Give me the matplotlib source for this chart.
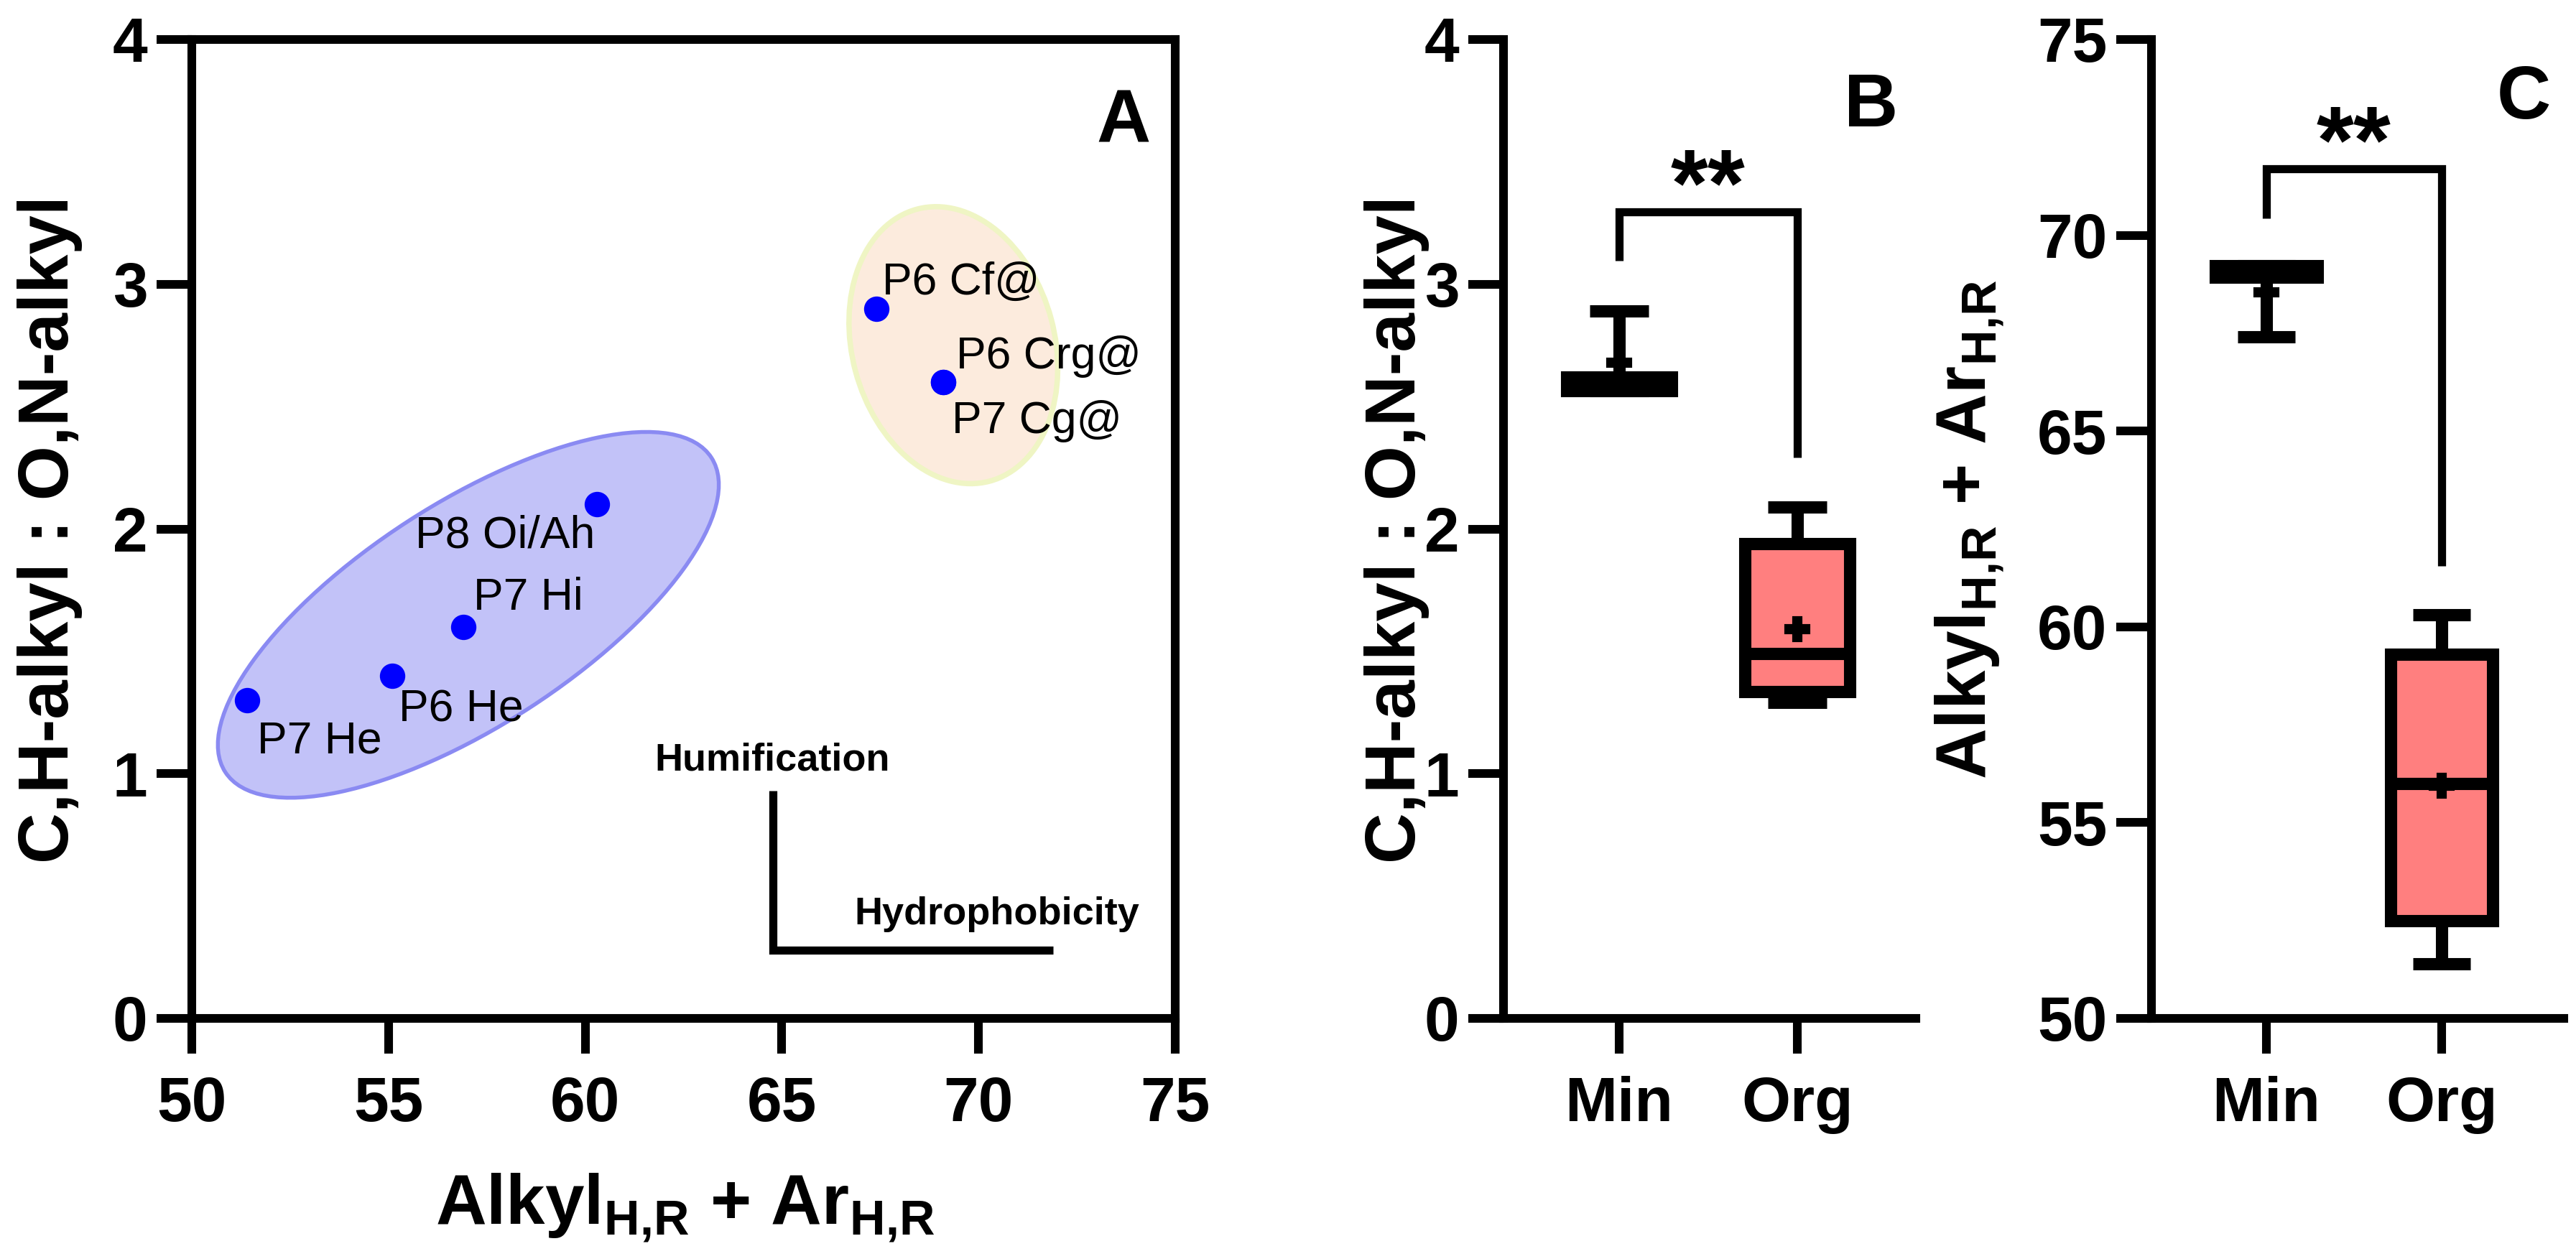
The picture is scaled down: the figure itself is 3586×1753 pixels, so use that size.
import matplotlib
matplotlib.use('Agg')
import matplotlib.pyplot as plt
from matplotlib.patches import Ellipse
import matplotlib.transforms as mtransforms

plt.rcParams['font.family'] = ['Liberation Sans', 'DejaVu Sans']
plt.rcParams['font.weight'] = 'bold'
plt.rcParams['mathtext.fontset'] = 'custom'
plt.rcParams['mathtext.rm'] = 'Liberation Sans:bold'
plt.rcParams['mathtext.bf'] = 'Liberation Sans:bold'
plt.rcParams['mathtext.it'] = 'Liberation Sans:bold'

# ---------------- data ----------------
# Panel A: scatter
sample_labels = ['P7 He', 'P6 He', 'P7 Hi', 'P8 Oi/Ah', 'P6 Cf@', 'P6 Crg@', 'P7 Cg@']
alkyl_ar = [51.4, 55.1, 56.9, 60.3, 67.4, 69.1, 69.1]
ch_on_ratio = [1.30, 1.40, 1.60, 2.10, 2.90, 2.60, 2.60]

# Panel B / C: box plot summaries
groups = ['Min', 'Org']
b_whislo = [2.565, 1.29]
b_q1 = [2.565, 1.335]
b_med = [2.60, 1.49]
b_q3 = [2.62, 1.94]
b_whishi = [2.89, 2.09]
b_mean = [2.68, 1.59]

c_whislo = [67.4, 51.4]
c_q1 = [68.92, 52.5]
c_med = [69.10, 56.0]
c_q3 = [69.23, 59.3]
c_whishi = [69.23, 60.3]
c_mean = [68.55, 55.95]

sig_text = '**'

# ---------------- figure ----------------
W, H = 3586, 1753
DPI = 300
fig = plt.figure(figsize=(W / DPI, H / DPI), dpi=DPI)

def px_ax(l, r, t, b):
    return [l / W, 1 - b / H, (r - l) / W, (b - t) / H]

SPINE_LW = 2.9
TICK_FS = 21
LABEL_FS = 23.5

axA = fig.add_axes(px_ax(267, 1636, 55, 1418))
axB = fig.add_axes(px_ax(2093, 2667, 55, 1418))
axC = fig.add_axes(px_ax(2995, 3569, 55, 1418))

for ax in (axA, axB, axC):
    for s in ax.spines.values():
        s.set_linewidth(SPINE_LW)
    ax.tick_params(axis='both', which='both', direction='out', length=11.8,
                   width=SPINE_LW, labelsize=TICK_FS, top=False, right=False)
    ax.tick_params(axis='x', pad=7.5)
    ax.tick_params(axis='y', pad=3.0)

# ---------------- Panel A ----------------
axA.set_xlim(50, 75)
axA.set_ylim(0, 4)
axA.set_xticks([50, 55, 60, 65, 70, 75])
axA.set_yticks([0, 1, 2, 3, 4])

def ellipse(ax, cx, cy, a_px, b_px, angle, fc, ec, lw):
    trans = mtransforms.Affine2D().scale(fig.dpi / DPI) + \
        mtransforms.ScaledTranslation(cx, cy, ax.transData)
    e = Ellipse((0, 0), 2 * a_px, 2 * b_px, angle=angle, transform=trans,
                facecolor=fc, edgecolor=ec, linewidth=lw, zorder=1)
    ax.add_patch(e)

ellipse(axA, 57.03, 1.649, 403, 155, 32.9, '#C2C2F8', '#8A8AF2', 1.3)
ellipse(axA, 69.36, 2.751, 196, 141, 105, '#FCEBDD', '#EFF5C4', 1.8)

axA.scatter(alkyl_ar, ch_on_ratio, s=72, color='#0000FF', linewidths=0, zorder=3)

label_offsets = [(3.4, -6.5), (2.2, -4.2), (3.4, 5.8), (-0.7, -3.4),
                 (1.9, 4.8), (4.3, 4.6), (2.9, -6.0)]
label_align = [('left', 'top'), ('left', 'top'), ('left', 'baseline'), ('right', 'top'),
               ('left', 'baseline'), ('left', 'baseline'), ('left', 'top')]
for lab, x, y, off, (ha, va) in zip(sample_labels, alkyl_ar, ch_on_ratio,
                                    label_offsets, label_align):
    axA.annotate(lab, (x, y), xytext=off, textcoords='offset points',
                 ha=ha, va=va, fontsize=15, fontweight='normal', zorder=4)

# humification / hydrophobicity indicator
axA.plot([64.77, 64.77, 71.9], [0.93, 0.28, 0.28], color='black', lw=2.7,
         solid_joinstyle='miter', solid_capstyle='butt')
axA.text(67.75, 1.015, 'Humification', ha='right', va='baseline', fontsize=13,
         fontweight='bold')
axA.text(74.1, 0.384, 'Hydrophobicity', ha='right', va='baseline', fontsize=13,
         fontweight='bold')

# ---------------- Box panels ----------------
def box_panel(ax, whislo, q1, med, q3, whishi, mean, ylim, yticks, xlim,
              br_top, br_left, br_right):
    stats = []
    for i in range(len(groups)):
        stats.append(dict(whislo=whislo[i], q1=q1[i], med=med[i], q3=q3[i],
                          whishi=whishi[i], mean=mean[i], fliers=[],
                          label=groups[i]))
    ax.bxp(stats, positions=range(len(groups)), widths=0.585, capwidths=0.33,
           patch_artist=True, showmeans=True, showfliers=False,
           boxprops=dict(facecolor='#FF7F7F', edgecolor='black', linewidth=4.1,
                         joinstyle='miter'),
           whiskerprops=dict(color='black', linewidth=4.1, solid_capstyle='butt'),
           capprops=dict(color='black', linewidth=4.1, solid_capstyle='butt'),
           medianprops=dict(color='black', linewidth=4.1, solid_capstyle='butt'),
           meanprops=dict(marker='P', markerfacecolor='black',
                          markeredgecolor='black', markersize=7.5),
           manage_ticks=False)
    ax.set_xlim(*xlim)
    ax.set_ylim(*ylim)
    ax.set_yticks(yticks)
    ax.set_xticks(range(len(groups)))
    ax.set_xticklabels(groups, fontsize=TICK_FS, fontweight='bold')
    ax.spines['top'].set_visible(False)
    ax.spines['right'].set_visible(False)
    ax.plot([0, 0, 1, 1], [br_left, br_top, br_top, br_right], color='black',
            lw=2.7, solid_joinstyle='miter', solid_capstyle='butt', clip_on=False)
    ax.text(0.5, br_top - (ylim[1] - ylim[0]) * 0.004, sig_text, ha='center',
            va='baseline', fontsize=32, fontweight='bold')

box_panel(axB, b_whislo, b_q1, b_med, b_q3, b_whishi, b_mean, (0, 4),
          [0, 1, 2, 3, 4], (-0.649, 1.665), 3.296, 3.096, 2.292)
box_panel(axC, c_whislo, c_q1, c_med, c_q3, c_whishi, c_mean, (50, 75),
          [50, 55, 60, 65, 70, 75], (-0.656, 1.697), 71.7, 70.43, 61.56)

for ax in (axA, axB, axC):
    for lbl in ax.get_xticklabels() + ax.get_yticklabels():
        lbl.set_fontweight('bold')

# ---------------- labels ----------------
def ftxt(x, y, s, **kw):
    fig.text(x / W, 1 - y / H, s, **kw)

ylab = 'C,H-alkyl : O,N-alkyl'
xlab = r'Alkyl$_{H{,}R}$ + Ar$_{H{,}R}$'
ftxt(70, 737, ylab, rotation=90, ha='center', va='center', fontsize=LABEL_FS,
     fontweight='bold')
ftxt(954, 1705, xlab, ha='center', va='baseline', fontsize=LABEL_FS,
     fontweight='bold')
ftxt(1944, 737, ylab, rotation=90, ha='center', va='center', fontsize=LABEL_FS,
     fontweight='bold')
ftxt(2742, 737, xlab, rotation=90, ha='center', va='center', fontsize=LABEL_FS,
     fontweight='bold')

ftxt(1564, 197, 'A', ha='center', va='baseline', fontsize=25, fontweight='bold')
ftxt(2605, 176, 'B', ha='center', va='baseline', fontsize=25, fontweight='bold')
ftxt(3513, 165, 'C', ha='center', va='baseline', fontsize=25, fontweight='bold')

fig.savefig('out.png', dpi=DPI, facecolor='white')
